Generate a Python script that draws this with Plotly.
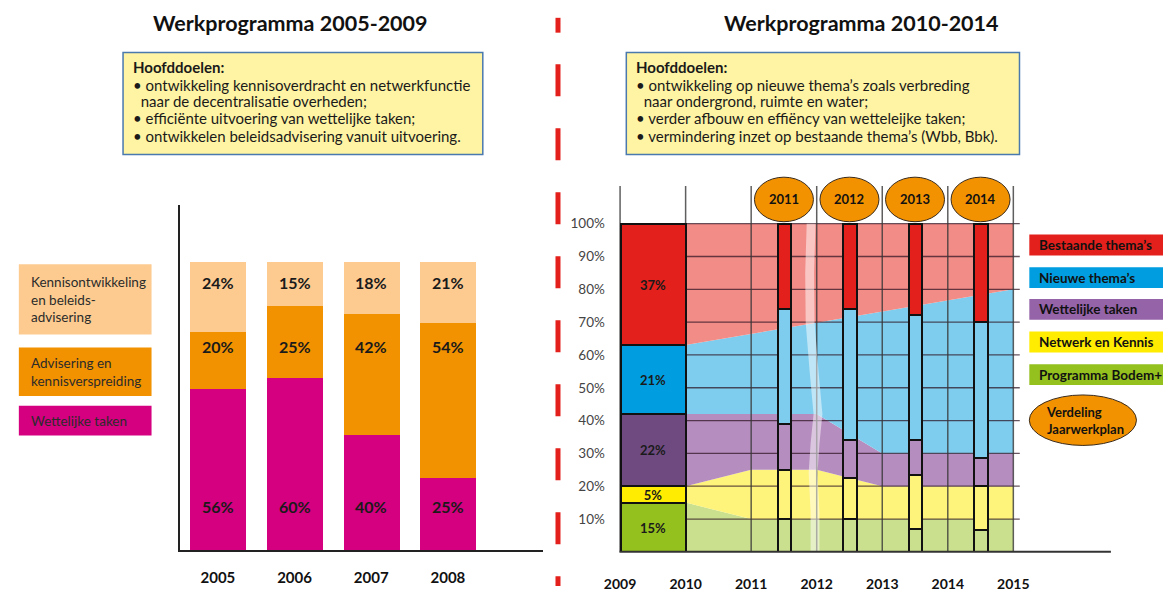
import plotly.graph_objects as go

W, H = 1173, 592
FONT = "Lato"

# ---------------- Left chart: Werkprogramma 2005-2009 ----------------
left_years = ["2005", "2006", "2007", "2008"]
left_wettelijk = [56, 60, 40, 25]      # Wettelijke taken
left_advisering = [20, 25, 42, 54]     # Advisering en kennisverspreiding
left_kennis = [24, 15, 18, 21]         # Kennisontwikkeling en beleidsadvisering
left_legend_labels = ["Kennisontwikkeling<br>en beleids-<br>advisering",
                      "Advisering en<br>kennisverspreiding",
                      "Wettelijke taken"]

# ---------------- Right chart: Werkprogramma 2010-2014 ----------------
right_tick_years = [2009, 2010, 2011, 2012, 2013, 2014, 2015]
right_pct_ticks = [10, 20, 30, 40, 50, 60, 70, 80, 90, 100]

bar_x = [2009.5, 2011.5, 2012.5, 2013.5, 2014.5]   # 2009 realised + Jaarwerkplan 2011-2014
bar_green = [15, 10, 10, 7, 6.5]       # Programma Bodem+
bar_yellow = [5, 15, 12.5, 16.5, 13.5] # Netwerk en Kennis
bar_purple = [22, 14, 11.5, 10.5, 8.5] # Wettelijke taken
bar_blue = [21, 35, 40, 38, 41.5]      # Nieuwe thema's
bar_red = [37, 26, 26, 28, 30]         # Bestaande thema's
plan_labels = ["2011", "2012", "2013", "2014"]

# stacked background bands (cumulative upper boundaries)
area_green_x = [2010, 2011, 2015]
area_green_top = [15, 10, 10]
area_yellow_x = [2010, 2011, 2012, 2013, 2015]
area_yellow_top = [20, 25, 25, 20, 20]
area_purple_x = [2010, 2012, 2013, 2015]
area_purple_top = [42, 42, 30, 30]
area_blue_x = [2010, 2015]
area_blue_top = [63, 80]
area_red_x = [2010, 2015]
area_red_top = [100, 100]

right_legend_labels = ["Bestaande thema’s", "Nieuwe thema’s", "Wettelijke taken",
                       "Netwerk en Kennis", "Programma Bodem+"]

left_goals = ["<b>Hoofddoelen:</b>",
              "• ontwikkeling kennisoverdracht en netwerkfunctie",
              "\u00a0\u00a0naar de decentralisatie overheden;",
              "• efficiënte uitvoering van wettelijke taken;",
              "• ontwikkelen beleidsadvisering vanuit uitvoering."]
right_goals = ["<b>Hoofddoelen:</b>",
               "• ontwikkeling op nieuwe thema’s zoals verbreding",
               "\u00a0\u00a0naar ondergrond, ruimte en water;",
               "• verder afbouw en effiëncy van wetteleijke taken;",
               "• vermindering inzet op bestaande thema’s (Wbb, Bbk)."]

# ---------------- styles ----------------
C_LIGHTOR, C_ORANGE, C_MAGENTA = "#FDCB90", "#F39200", "#D4007F"
SAT = {"red": "#E3201B", "blue": "#009EE0", "purple": "#6E4A80", "yellow": "#FFEC00", "green": "#95C11F"}
LIGHT = {"red": "#F28C87", "blue": "#7FCDEE", "purple": "#B68DBF", "yellow": "#FEF37B", "green": "#CAE08E"}
LEG = {"red": "#E3201B", "blue": "#009EE0", "purple": "#9463A8", "yellow": "#FFEC00", "green": "#95C11F"}


def px(xp):
    return xp / W


def py(yp):
    return 1 - yp / H


fig = go.Figure()

# ---- left stacked bars
lx = list(range(len(left_years)))
for vals, col in [(left_wettelijk, C_MAGENTA), (left_advisering, C_ORANGE), (left_kennis, C_LIGHTOR)]:
    fig.add_trace(go.Bar(x=lx, y=vals, width=0.73, marker=dict(color=col, line=dict(width=0)),
                         xaxis="x", yaxis="y", hoverinfo="skip", showlegend=False))

annotations = []
for i in lx:
    for vals, yrow in [(left_kennis, 93.1), (left_advisering, 70.8), (left_wettelijk, 15.1)]:
        annotations.append(dict(x=i, y=yrow, xref="x", yref="y", text=f"{vals[i]}%", showarrow=False,
                                xanchor="center", yanchor="middle",
                                font=dict(family=FONT, size=16, color="#1a1a1a", weight="bold")))

# ---- right background bands
fig.add_trace(go.Scatter(x=area_green_x, y=area_green_top, mode="lines", line=dict(width=0),
                         fill="tozeroy", fillcolor=LIGHT["green"], xaxis="x2", yaxis="y2",
                         hoverinfo="skip", showlegend=False))
for xs, ys, key in [(area_yellow_x, area_yellow_top, "yellow"), (area_purple_x, area_purple_top, "purple"),
                    (area_blue_x, area_blue_top, "blue"), (area_red_x, area_red_top, "red")]:
    fig.add_trace(go.Scatter(x=xs, y=ys, mode="lines", line=dict(width=0), fill="tonexty",
                             fillcolor=LIGHT[key], xaxis="x2", yaxis="y2", hoverinfo="skip", showlegend=False))

YTOP = (557.5 - 188) / 3.315
XR = [2008.9, 2015.1]

# grid lines over the bands
hx, hy = [], []
for p in right_pct_ticks:
    hx += [right_tick_years[0], XR[1], None]
    hy += [p, p, None]
fig.add_trace(go.Scatter(x=hx, y=hy, mode="lines", line=dict(color="rgba(45,20,35,0.72)", width=1.3),
                         xaxis="x2", yaxis="y2", hoverinfo="skip", showlegend=False))
vx, vy = [], []
for yr in right_tick_years:
    vx += [yr, yr, None]
    vy += [0, YTOP, None]
fig.add_trace(go.Scatter(x=vx, y=vy, mode="lines", line=dict(color="rgba(55,55,55,0.8)", width=1.5),
                         xaxis="x2", yaxis="y2", hoverinfo="skip", showlegend=False))

# ---- right stacked bars (overlay subplot so they sit above the bands)
widths = [1.0] + [0.2] * (len(bar_x) - 1)
for vals, key in [(bar_green, "green"), (bar_yellow, "yellow"), (bar_purple, "purple"),
                  (bar_blue, "blue"), (bar_red, "red")]:
    cols = [SAT[key]] + [SAT[key] if key == "red" else LIGHT[key]] * (len(bar_x) - 1)
    txt = [f"{vals[0]:g}%"] + [""] * (len(bar_x) - 1)
    fig.add_trace(go.Bar(x=bar_x, y=vals, width=widths, marker=dict(color=cols, line=dict(color="#111", width=2)),
                         text=txt, textposition="inside", insidetextanchor="middle", textangle=0,
                         textfont=dict(family=FONT, size=13, color="#1a1a1a", weight="bold"),
                         xaxis="x3", yaxis="y3", hoverinfo="skip", showlegend=False))

shapes = []

# white wavy "break" band near 2012
wave = [(100, 815), (85, 813.5), (70, 814), (55, 818), (42, 822), (33, 819), (24, 817), (12, 819), (0, 819)]


def yr_of(xp):
    return 2009 + (xp - 620.7) / 66.667


left_edge = [(yr_of(c - 4.5), v) for v, c in wave]
right_edge = [(yr_of(c + 4.5), v) for v, c in reversed(wave)]
path = "M " + " L ".join(f"{a:.4f},{b}" for a, b in left_edge + right_edge) + " Z"
shapes.append(dict(type="path", path=path, xref="x2", yref="y2", fillcolor="rgba(255,255,255,0.5)",
                   line=dict(width=0), layer="above"))

# orange plan ellipses
for xv, lab in zip(bar_x[1:], plan_labels):
    shapes.append(dict(type="circle", xref="x2", yref="paper", x0=xv - 0.45, x1=xv + 0.45,
                       y0=py(224), y1=py(179), fillcolor=C_ORANGE, line=dict(color="#3a2a1a", width=1),
                       layer="above"))
    annotations.append(dict(x=xv, y=py(201.5), xref="x2", yref="paper", text=lab, showarrow=False,
                            xanchor="center", yanchor="middle",
                            font=dict(family=FONT, size=13, color="#111", weight="bold")))

# right baseline
shapes.append(dict(type="line", xref="paper", yref="paper", x0=px(620), x1=px(1120), y0=py(557.5), y1=py(557.5),
                   line=dict(color="#333", width=2)))

# red dashed divider
shapes.append(dict(type="line", xref="paper", yref="paper", x0=px(557.5), x1=px(557.5), y0=py(18), y1=py(33),
                   line=dict(color="#E3201B", width=5)))
shapes.append(dict(type="line", xref="paper", yref="paper", x0=px(557.5), x1=px(557.5), y0=py(65), y1=0,
                   line=dict(color="#E3201B", width=5, dash="32px,32px")))

# yellow goal boxes with text lines
line_y = [68, 85.5, 102.5, 119.5, 137]
for (x0, x1), tx, lines in [((115, 481), 123, left_goals), ((627, 1027), 635, right_goals)]:
    shapes.append(dict(type="rect", xref="paper", yref="paper", x0=px(x0), x1=px(x1), y0=py(156), y1=py(53),
                       fillcolor="#FFF4A3", line=dict(color="#4A79AE", width=1.5)))
    for yl, t in zip(line_y, lines):
        annotations.append(dict(x=px(tx), y=py(yl), xref="paper", yref="paper", xanchor="left",
                                yanchor="middle", align="left", showarrow=False, text=t,
                                font=dict(family=FONT, size=15, color="#1a1a1a")))

# titles
for xc, t in [(285, "Werkprogramma 2005-2009"), (866, "Werkprogramma 2010-2014")]:
    annotations.append(dict(x=px(xc), y=py(23), xref="paper", yref="paper", text=t, showarrow=False,
                            xanchor="center", yanchor="middle",
                            font=dict(family=FONT, size=21.5, color="#111", weight="bold")))

# left legend boxes
for (y0, y1), col, lab in zip([(267, 338), (351, 400), (410, 440)], [C_LIGHTOR, C_ORANGE, C_MAGENTA],
                              left_legend_labels):
    shapes.append(dict(type="rect", xref="paper", yref="paper", x0=px(9), x1=px(144), y0=py(y1), y1=py(y0),
                       fillcolor=col, line=dict(width=0)))
    annotations.append(dict(x=px(19), y=py((y0 + y1) / 2), xref="paper", yref="paper", xanchor="left",
                            yanchor="middle", align="left", text=lab, showarrow=False,
                            font=dict(family=FONT, size=13.5, color="#2b2b2b")))

# right legend boxes
for (y0, y1), key, lab in zip([(237, 258), (270, 291), (302, 323), (335, 356), (368, 389)],
                              ["red", "blue", "purple", "yellow", "green"], right_legend_labels):
    shapes.append(dict(type="rect", xref="paper", yref="paper", x0=px(1037), x1=1.0, y0=py(y1), y1=py(y0),
                       fillcolor=LEG[key], line=dict(width=0)))
    annotations.append(dict(x=px(1045), y=py((y0 + y1) / 2), xref="paper", yref="paper", xanchor="left",
                            yanchor="middle", text=lab, showarrow=False,
                            font=dict(family=FONT, size=13.5, color="#111", weight="bold")))
shapes.append(dict(type="circle", xref="paper", yref="paper", x0=px(1037), x1=px(1146), y0=py(450), y1=py(399),
                   fillcolor=C_ORANGE, line=dict(color="#3a2a1a", width=1)))
annotations.append(dict(x=px(1052), y=py(424.5), xref="paper", yref="paper", xanchor="left", yanchor="middle",
                        align="left", text="Verdeling<br>Jaarwerkplan", showarrow=False,
                        font=dict(family=FONT, size=13, color="#111", weight="bold")))

noax = dict(showgrid=False, zeroline=False, fixedrange=True)
fig.update_layout(
    width=W, height=H, margin=dict(l=0, r=0, t=0, b=0),
    paper_bgcolor="white", plot_bgcolor="rgba(0,0,0,0)",
    barmode="stack", bargap=0, showlegend=False,
    uniformtext=dict(minsize=13, mode="show"),
    font=dict(family=FONT),
    xaxis=dict(domain=[px(172.5), px(542)], range=[-0.5, 4.237], anchor="y", tickvals=lx, ticktext=left_years,
               tickfont=dict(family=FONT, size=15, color="#111", weight="bold"), ticks="outside", ticklen=13,
               tickcolor="rgba(0,0,0,0)", showline=True, linecolor="#222", linewidth=2, **noax),
    yaxis=dict(domain=[py(556), py(207)], range=[0, (556 - 207) / 2.91], anchor="x", showticklabels=False,
               ticks="", showline=True, linecolor="#222", linewidth=2, **noax),
    xaxis2=dict(domain=[px(614), px(1027.4)], range=XR, anchor="y2", tickvals=right_tick_years,
                ticktext=[str(v) for v in right_tick_years],
                tickfont=dict(family=FONT, size=14, color="#111", weight="bold"), ticks="outside", ticklen=19,
                tickcolor="rgba(0,0,0,0)", showline=False, **noax),
    yaxis2=dict(domain=[py(557.5), py(188)], range=[0, YTOP], anchor="x2", tickvals=right_pct_ticks,
                ticktext=[f"{v}%" for v in right_pct_ticks], tickfont=dict(family=FONT, size=13.5, color="#444"),
                ticks="outside", ticklen=5, tickcolor="rgba(0,0,0,0)", showline=False, **noax),
    xaxis3=dict(overlaying="x2", range=XR, anchor="y3", visible=False, **noax),
    yaxis3=dict(overlaying="y2", range=[0, YTOP], anchor="x3", visible=False, **noax),
    shapes=shapes, annotations=annotations,
)

fig.write_html("out.html", config={"displayModeBar": False},
               post_script="document.body.style.margin='0px';document.body.style.overflow='hidden';")
